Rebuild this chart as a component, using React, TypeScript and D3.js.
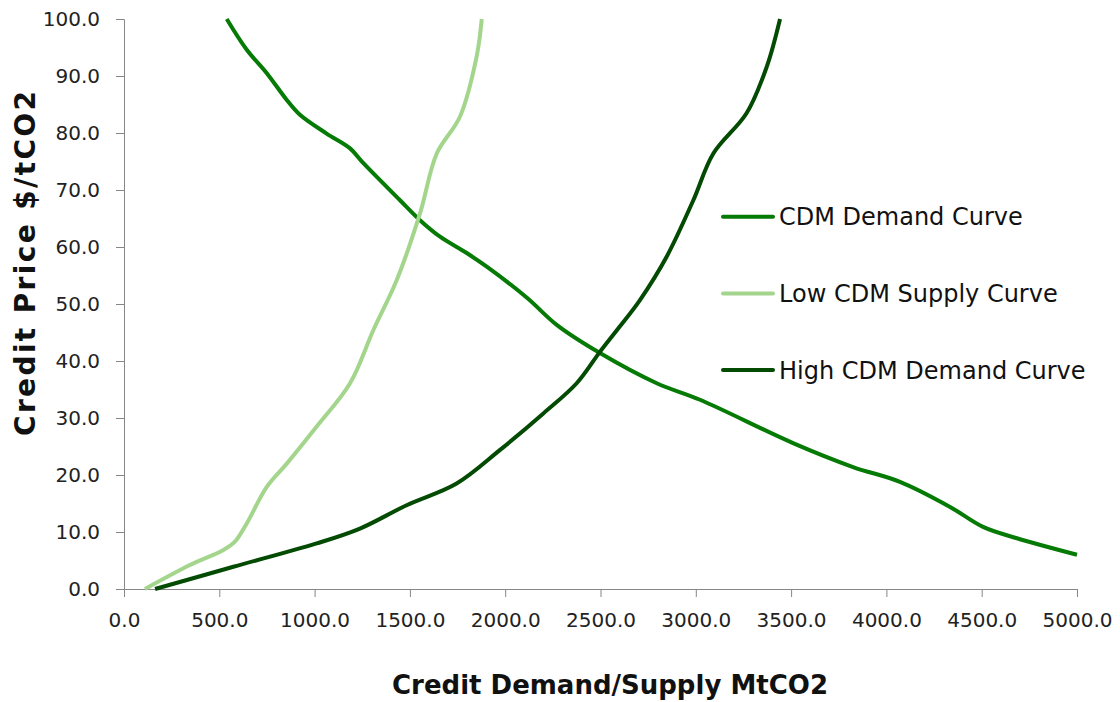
import * as d3 from "d3";
import { useEffect, useRef } from "react";

// Values
const demandX = [539, 644, 749, 854, 923, 1063, 1186, 1256, 1448, 1553, 1658, 1800, 1905, 2114, 2272, 2497, 2795, 3022, 3510, 3825, 4071, 4334, 4507, 4685, 5000];
const demandY = [100, 94.6, 90.5, 85.8, 83.2, 79.9, 77.3, 74.7, 68.2, 64.7, 61.8, 58.9, 56.5, 51.1, 46.3, 41.4, 36.1, 33.2, 25.6, 21.4, 18.8, 14.4, 10.9, 8.9, 6.0];

const lowX = [110, 346, 519, 582, 644, 749, 854, 1011, 1186, 1308, 1431, 1553, 1641, 1763, 1850, 1877];
const lowY = [0, 4.2, 6.8, 8.3, 11.5, 17.9, 22.0, 28.5, 36.1, 45.4, 54.2, 65.9, 76.4, 82.9, 93.4, 100];

const highX = [163, 574, 1011, 1238, 1483, 1745, 1973, 2200, 2375, 2497, 2600, 2707, 2847, 2987, 3092, 3267, 3372, 3442];
const highY = [0, 3.9, 8.0, 10.6, 14.7, 18.5, 24.4, 30.8, 36.1, 41.6, 46, 50.7, 58.3, 68.2, 76.4, 83.5, 91.6, 100];

const seriesNames = ["CDM Demand Curve", "Low CDM Supply Curve", "High CDM Demand Curve"];
const seriesColors = ["#057a05", "#a3d68c", "#034a03"];

const xTicks = [0, 500, 1000, 1500, 2000, 2500, 3000, 3500, 4000, 4500, 5000];
const yTicks = [0, 10, 20, 30, 40, 50, 60, 70, 80, 90, 100];

const xTitle = "Credit Demand/Supply MtCO2";
const yTitle = "Credit Price $/tCO2";

export default function App() {
  const svgRef = useRef<SVGSVGElement>(null);

  useEffect(() => {
    if (!svgRef.current) return;
    const width = 1120;
    const height = 702;
    const svg = d3.select<SVGSVGElement, unknown>(svgRef.current);
    svg.selectAll("*").remove();
    svg.attr("width", width).attr("height", height);

    svg.append("rect").attr("width", width).attr("height", height).attr("fill", "#ffffff");

    const x = d3.scaleLinear().domain([0, 5000]).range([124, 1077]);
    const y = d3.scaleLinear().domain([0, 100]).range([589, 19]);

    const font = "'DejaVu Sans', sans-serif";

    // Y axis
    const yAxis = d3
      .axisLeft(y)
      .tickValues(yTicks)
      .tickFormat((d) => (d as number).toFixed(1))
      .tickSizeOuter(0)
      .tickSize(8)
      .tickPadding(16);
    const yG = svg.append("g").attr("transform", "translate(124,0)").call(yAxis);
    yG.select(".domain").attr("stroke", "#878787");
    yG.selectAll(".tick line").attr("stroke", "#878787");
    yG.selectAll(".tick text")
      .attr("fill", "#222")
      .attr("font-size", "20px")
      .attr("font-family", font);

    // X axis
    const xAxis = d3
      .axisBottom(x)
      .tickValues(xTicks)
      .tickFormat((d) => (d as number).toFixed(1))
      .tickSizeOuter(0)
      .tickSize(8)
      .tickPadding(16);
    const xG = svg.append("g").attr("transform", "translate(0,589)").call(xAxis);
    xG.select(".domain").attr("stroke", "#878787");
    xG.selectAll(".tick line").attr("stroke", "#878787");
    xG.selectAll(".tick text")
      .attr("fill", "#222")
      .attr("font-size", "20px")
      .attr("font-family", font);

    // Curves
    const series = [
      { xs: demandX, ys: demandY },
      { xs: lowX, ys: lowY },
      { xs: highX, ys: highY },
    ];
    const line = d3
      .line<[number, number]>()
      .x((d) => x(d[0]))
      .y((d) => y(d[1]))
      .curve(d3.curveCatmullRom.alpha(0.5));

    series.forEach((s, i) => {
      const pts = s.xs.map((v, j) => [v, s.ys[j]] as [number, number]);
      svg
        .append("path")
        .attr("d", line(pts))
        .attr("fill", "none")
        .attr("stroke", seriesColors[i])
        .attr("stroke-width", 4)
        .attr("stroke-linejoin", "round");
    });

    // Legend
    const legend = svg.append("g");
    seriesNames.forEach((name, i) => {
      const ly = 216.7 + i * 76.7;
      legend
        .append("line")
        .attr("x1", 723)
        .attr("x2", 773)
        .attr("y1", ly)
        .attr("y2", ly)
        .attr("stroke", seriesColors[i])
        .attr("stroke-width", 4)
        .attr("stroke-linecap", "round");
      legend
        .append("text")
        .attr("x", 779)
        .attr("y", ly + 8.5)
        .attr("fill", "#111")
        .attr("font-size", "24px")
        .attr("font-family", font)
        .text(name);
    });

    // Axis titles
    svg
      .append("text")
      .attr("x", 610)
      .attr("y", 694)
      .attr("text-anchor", "middle")
      .attr("font-size", "26px")
      .attr("font-weight", "bold")
      .attr("font-family", font)
      .attr("fill", "#111")
      .text(xTitle);

    svg
      .append("text")
      .attr("transform", "translate(35,263.5) rotate(-90)")
      .attr("text-anchor", "middle")
      .attr("font-size", "28px")
      .attr("font-weight", "bold")
      .attr("font-family", font)
      .attr("fill", "#111")
      .attr("textLength", 345)
      .attr("lengthAdjust", "spacing")
      .text(yTitle);
  }, []);

  return <svg ref={svgRef} style={{ position: "absolute", left: 0, top: 0 }}></svg>;
}
